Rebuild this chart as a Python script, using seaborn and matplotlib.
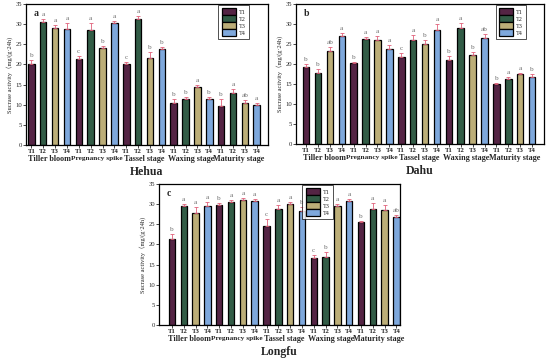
import numpy as np
import pandas as pd
import matplotlib
matplotlib.use('Agg')
import matplotlib.pyplot as plt
import seaborn as sns

sns.set_style('white')
plt.rcParams['font.family'] = ['Liberation Serif', 'Noto Sans CJK SC', 'DejaVu Sans']

# ---- DATA ----
stages = ['Tiller bloom', 'Pregnancy spike', 'Tassel stage', 'Waxing stage', 'Maturity stage']
treatments = ['T1', 'T2', 'T3', 'T4']

hehua_vals = [20.1, 30.6, 29.0, 28.8, 21.3, 28.5, 24.2, 30.2, 20.1, 31.3, 21.6, 23.8,
              10.5, 11.5, 14.3, 11.4, 9.8, 13.0, 10.4, 9.9]
hehua_err = [0.9, 0.6, 0.9, 1.5, 0.8, 1.8, 0.3, 0.6, 0.4, 0.8, 1.6, 0.6,
             0.8, 0.4, 0.5, 0.4, 1.6, 1.0, 0.8, 0.6]
hehua_sig = ['b', 'a', 'a', 'a', 'c', 'a', 'b', 'a', 'c', 'a', 'b', 'b',
             'b', 'b', 'a', 'b', 'b', 'a', 'ab', 'a']

dahu_vals = [19.3, 17.8, 23.2, 27.0, 20.2, 26.2, 26.0, 23.7, 21.8, 26.0, 25.0, 28.6,
             21.1, 29.1, 22.3, 26.4, 15.0, 16.3, 17.5, 16.7]
dahu_err = [0.8, 0.9, 1.0, 0.8, 0.2, 0.5, 1.1, 1.0, 1.0, 1.3, 1.0, 1.4,
            0.9, 1.2, 0.7, 1.0, 0.2, 0.4, 0.3, 0.9]
dahu_sig = ['b', 'b', 'ab', 'a', 'b', 'a', 'a', 'a', 'c', 'a', 'b', 'a',
            'b', 'a', 'b', 'ab', 'b', 'a', 'a', 'b']

longfu_vals = [21.4, 29.6, 27.9, 29.6, 29.9, 30.6, 31.1, 30.8, 24.6, 28.8, 30.0, 28.4,
               16.6, 16.9, 29.6, 30.8, 25.6, 28.9, 28.6, 26.7]
longfu_err = [1.3, 0.4, 1.3, 0.9, 0.3, 0.5, 0.4, 0.4, 1.8, 1.0, 0.5, 1.0,
              0.7, 1.1, 0.4, 0.5, 0.3, 1.5, 1.2, 0.7]
longfu_sig = ['b', 'a', 'a', 'a', 'b', 'a', 'a', 'a', 'c', 'a', 'a', 'b',
              'c', 'b', 'a', 'a', 'b', 'a', 'a', 'ab']

palette = {'T1': '#5c1c47', 'T2': '#2b6346', 'T3': '#c7b46d', 'T4': '#6ea6ec'}


def draw_panel(ax, vals, errs, sigs, name, tag, xlim, leg_anchor):
    df = pd.DataFrame({'bar': ['%s %s' % (s, t) for s in stages for t in treatments],
                       'stage': [s for s in stages for t in treatments],
                       'trt': treatments * len(stages),
                       'value': vals})
    sns.barplot(data=df, x='bar', y='value', hue='trt', palette=palette, dodge=False,
                width=0.55, edgecolor='black', linewidth=0.9, ax=ax)
    pos = np.arange(len(df))
    ax.errorbar(pos, df['value'], yerr=[np.zeros(len(df)), errs], fmt='none',
                ecolor='#e0607a', elinewidth=0.6, capsize=1.3, capthick=0.6)
    for x, v, e, s in zip(pos, df['value'], errs, sigs):
        ax.text(x, v + e + 0.5, s, ha='center', va='bottom', fontsize=5.2, color='#707070')

    ax.set_ylim(0, 35)
    ax.set_xlim(*xlim)
    ax.set_yticks(np.arange(0, 36, 5))
    ax.set_xticks(pos)
    ax.set_xticklabels(df['trt'], fontsize=4.9, fontweight='bold')
    ax.tick_params(axis='y', labelsize=4.8, length=2, width=0.6, pad=1, left=True)
    ax.tick_params(axis='x', length=2, width=0.6, pad=1, bottom=True)
    ax.set_xlabel('')
    ax.set_ylabel('Sucrase activity（mg/(g·24h)', fontsize=4.6, labelpad=1.5)
    for sp in ax.spines.values():
        sp.set_color('black')
        sp.set_linewidth(0.9)

    # stage names under the group ticks
    for i, s in enumerate(stages):
        fs = 5.3 if s.startswith('Preg') else 5.9
        ax.annotate(s, xy=(i * 4 + 1.5, 0), xycoords=('data', 'axes fraction'),
                    xytext=(0, -9.8), textcoords='offset points', ha='center', va='center',
                    fontsize=fs, fontweight='bold')
    ax.annotate(name, xy=(0.5, 0), xycoords='axes fraction', xytext=(0, -19.5),
                textcoords='offset points', ha='center', va='center', fontsize=8.5,
                fontweight='bold')
    ax.text(0.03, 0.93, tag, transform=ax.transAxes, fontsize=7, fontweight='bold',
            ha='left', va='center')

    handles, labels = ax.get_legend_handles_labels()
    ax.legend(handles, labels, loc='upper left', bbox_to_anchor=leg_anchor,
              fontsize=4.5, frameon=True, fancybox=False, edgecolor='black',
              handlelength=2.3, handleheight=1.2, labelspacing=0.1, borderpad=0.5,
              handletextpad=0.5, borderaxespad=0.2)
    ax.get_legend().get_frame().set_linewidth(0.6)


fig = plt.figure(figsize=(5.5, 3.59), dpi=100)
W, H = 550.0, 359.0
ax_a = fig.add_axes([26 / W, 1 - 145 / H, 242 / W, 141 / H])
ax_b = fig.add_axes([296 / W, 1 - 144 / H, 248 / W, 140 / H])
ax_c = fig.add_axes([159 / W, 1 - 325 / H, 241 / W, 141 / H])

draw_panel(ax_a, hehua_vals, hehua_err, hehua_sig, 'Hehua', 'a', (-0.45, 19.95), (0.79, 1.0))
draw_panel(ax_b, dahu_vals, dahu_err, dahu_sig, 'Dahu', 'b', (-0.85, 20.0), (0.8, 1.0))
draw_panel(ax_c, longfu_vals, longfu_err, longfu_sig, 'Longfu', 'c', (-1.1, 19.3), (0.59, 1.0))

fig.savefig('out.png', dpi=100)
